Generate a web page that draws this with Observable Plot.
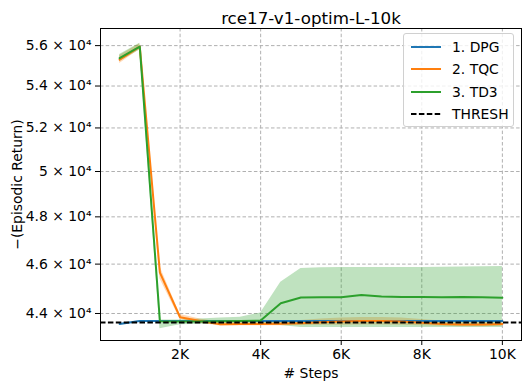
<!DOCTYPE html>
<html>
<head>
<meta charset="utf-8">
<script src="https://cdn.jsdelivr.net/npm/d3@7"></script>
<script src="https://cdn.jsdelivr.net/npm/@observablehq/plot@0.6"></script>
<style>
  html, body { margin: 0; padding: 0; background: #fff; }
  #wrap { position: relative; width: 531px; height: 392px; font-family: "DejaVu Sans", sans-serif; }
  #legend { position: absolute; left: 403px; top: 33px; width: 111px; height: 94px; box-sizing: border-box;
    border: 1px solid #d0d0d0; border-radius: 3px; background: rgba(255,255,255,0.8); }
  .row { position: absolute; left: 0; height: 20px; display: flex; align-items: center; font-size: 13.9px; color: #000; }
  .row svg { margin-left: 7px; margin-right: 11px; }
</style>
</head>
<body>
<div id="wrap"><div id="legend"></div></div>
<script>
const title = "rce17-v1-optim-L-10k";
const xLabel = "# Steps";
const yLabel = "\u2212(Episodic Return)";
const steps = [500,1000,1500,2000,2500,3000,3500,4000,4500,5000,5500,6000,6500,7000,7500,8000,8500,9000,9500,10000];

const dpgMean = [43590,43700,43700,43700,43700,43700,43700,43700,43700,43700,43700,43700,43700,43700,43700,43700,43700,43700,43700,43700];
const dpgLo   = [43570,43680,43680,43680,43680,43680,43680,43680,43680,43680,43680,43680,43680,43680,43680,43680,43680,43680,43680,43680];
const dpgHi   = [43610,43720,43720,43720,43720,43720,43720,43720,43720,43720,43720,43720,43720,43720,43720,43720,43720,43720,43720,43720];

const tqcMean = [55300,55950,45650,43850,43700,43580,43590,43590,43600,43620,43650,43680,43700,43700,43680,43630,43590,43570,43570,43590];
const tqcLo   = [55100,55800,45400,43770,43620,43510,43520,43520,43520,43530,43540,43540,43550,43550,43540,43520,43500,43480,43480,43500];
const tqcHi   = [55500,56100,45900,43960,43780,43650,43660,43660,43680,43720,43780,43820,43840,43840,43820,43760,43700,43670,43670,43700];

const td3Mean = [55370,55950,43690,43680,43680,43690,43700,43720,44410,44640,44650,44650,44740,44680,44660,44660,44650,44660,44650,44630];
const td3Lo   = [55200,55780,43400,43560,43580,43580,43590,43600,43530,43450,43450,43450,43450,43450,43450,43450,43450,43450,43450,43450];
const td3Hi   = [55550,56120,43740,43740,43780,43820,43850,44020,45260,45820,45850,45860,45860,45860,45860,45860,45870,45880,45890,45900];

const threshold = 43645;
const yTicks = [44000,46000,48000,50000,52000,54000,56000];
const xTicks = [2000,4000,6000,8000,10000];

const names = ["1. DPG","2. TQC","3. TD3"];
const colors = ["#1f77b4","#ff7f0e","#2ca02c"];

const series = [
  {name: names[0], color: colors[0], mean: dpgMean, lo: dpgLo, hi: dpgHi},
  {name: names[1], color: colors[1], mean: tqcMean, lo: tqcLo, hi: tqcHi},
  {name: names[2], color: colors[2], mean: td3Mean, lo: td3Lo, hi: td3Hi}
];
const rows = series.flatMap(s => steps.map((x, i) => ({name: s.name, x, mean: s.mean[i], lo: s.lo[i], hi: s.hi[i]})));

const sup = {"0":"\u2070","1":"\u00b9","2":"\u00b2","3":"\u00b3","4":"\u2074","5":"\u2075","6":"\u2076","7":"\u2077","8":"\u2078","9":"\u2079"};
function sciFmt(v) {
  const e = Math.floor(Math.log10(v));
  const m = +(v / Math.pow(10, e)).toFixed(2);
  return `${m} \u00d7 10${String(e).split("").map(c => sup[c]).join("")}`;
}

const plot = Plot.plot({
  width: 531,
  height: 392,
  marginLeft: 100,
  marginRight: 10,
  marginTop: 28,
  marginBottom: 52,
  style: {fontFamily: "DejaVu Sans, sans-serif", fontSize: "13.9px", color: "#000", background: "#fff"},
  x: {domain: [25, 10475]},
  y: {type: "log", domain: [42943, 56870]},
  color: {domain: names, range: colors},
  marks: [
    Plot.gridX(xTicks, {stroke: "#b0b0b0", strokeOpacity: 1, strokeDasharray: "3.5,2.2", strokeWidth: 1}),
    Plot.gridY(yTicks, {stroke: "#b0b0b0", strokeOpacity: 1, strokeDasharray: "3.5,2.2", strokeWidth: 1}),
    Plot.areaY(rows, {x: "x", y1: "lo", y2: "hi", fill: "name", fillOpacity: 0.3, z: "name", curve: "linear"}),
    Plot.line(rows, {x: "x", y: "mean", stroke: "name", strokeWidth: 2, z: "name"}),
    Plot.ruleY([threshold], {stroke: "#000", strokeWidth: 2, strokeDasharray: "5.5,2.4"}),
    Plot.frame({stroke: "#000", strokeWidth: 1}),
    Plot.axisX(xTicks, {tickFormat: d => `${d / 1000}K`, tickSize: 5, tickPadding: 4, label: xLabel, labelAnchor: "center", labelArrow: "none", labelOffset: 37}),
    Plot.axisY(yTicks, {tickFormat: sciFmt, tickSize: 5, tickPadding: 4, label: yLabel, labelAnchor: "center", labelArrow: "none", labelOffset: 88}),
    Plot.text([title], {frameAnchor: "top", dy: -16, fontSize: 16.7, text: d => d})
  ]
});
document.getElementById("wrap").prepend(plot);

const legendItems = [
  ...series.map(s => ({label: s.name, color: s.color, dash: null})),
  {label: "THRESH", color: "#000", dash: "5.5,2.4"}
];
const legend = document.getElementById("legend");
legendItems.forEach((it, i) => {
  const row = document.createElement("div");
  row.className = "row";
  row.style.top = (3 + i * 22.3) + "px";
  row.innerHTML = `<svg width="30" height="6"><line x1="0" x2="30" y1="3" y2="3" stroke="${it.color}" stroke-width="2" ${it.dash ? `stroke-dasharray="${it.dash}"` : ""}/></svg><span>${it.label}</span>`;
  legend.appendChild(row);
});
</script>
</body>
</html>
